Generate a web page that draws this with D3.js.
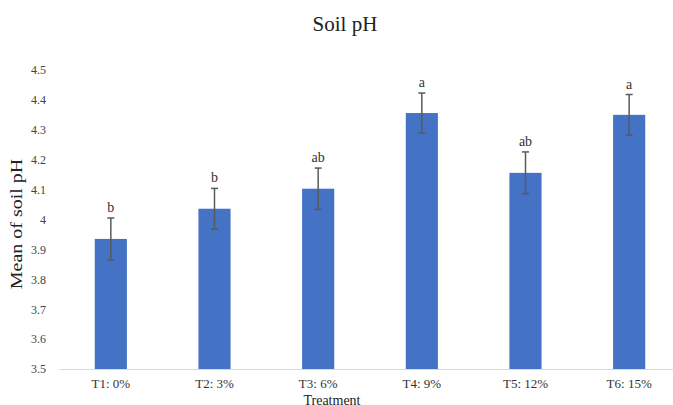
<!DOCTYPE html>
<html>
<head>
<meta charset="utf-8">
<script src="https://cdn.jsdelivr.net/npm/d3@7"></script>
<style>
  body { margin: 0; background: #fff; }
  svg { display: block; font-family: "Liberation Serif", "Times New Roman", serif; }
</style>
</head>
<body>
<svg id="chart"></svg>
<script>
// chart values
const treatments = ['T1: 0%', 'T2: 3%', 'T3: 6%', 'T4: 9%', 'T5: 12%', 'T6: 15%'];
const means = [3.935, 4.036, 4.103, 4.356, 4.156, 4.350];
const errors = [0.07, 0.068, 0.069, 0.067, 0.07, 0.068];
const groups = ['b', 'b', 'ab', 'a', 'ab', 'a'];
const yTicks = [3.5, 3.6, 3.7, 3.8, 3.9, 4, 4.1, 4.2, 4.3, 4.4, 4.5];

const data = treatments.map((t, i) => ({ t, mean: means[i], err: errors[i], grp: groups[i] }));

const W = 673, H = 405;
const margin = { top: 70, right: -8, bottom: 36, left: 59 };
const width = W - margin.left - margin.right;
const height = H - margin.top - margin.bottom;

const svg = d3.select('#chart').attr('width', W).attr('height', H);
const g = svg.append('g').attr('transform', `translate(${margin.left},${margin.top})`);

const x = d3.scaleBand().domain(treatments).range([0, width]).paddingInner(0.69).paddingOuter(0.345);
const y = d3.scaleLinear().domain([3.5, 4.5]).range([height, 0]);

// title
svg.append('text')
  .attr('x', 345).attr('y', 31)
  .attr('text-anchor', 'middle')
  .style('font-size', '21px')
  .attr('fill', '#222')
  .text('Soil pH');

// y axis labels (no line)
const yAxis = g.append('g')
  .call(d3.axisLeft(y).tickValues(yTicks).tickSize(0).tickPadding(13).tickFormat(d3.format('')));
yAxis.select('.domain').remove();
yAxis.selectAll('text').style('font-size', '12px').attr('fill', '#444').style('font-family', 'Liberation Serif, serif');

// y title
svg.append('text')
  .attr('transform', 'translate(22,224) rotate(-90) scale(1,0.8)')
  .attr('text-anchor', 'middle')
  .style('font-size', '20px')
  .attr('fill', '#222')
  .text('Mean of soil pH');

// bars
g.selectAll('rect.bar')
  .data(data)
  .enter()
  .append('rect')
  .attr('class', 'bar')
  .attr('x', d => x(d.t))
  .attr('y', d => y(d.mean))
  .attr('width', x.bandwidth())
  .attr('height', d => height - y(d.mean))
  .attr('fill', '#4472C4');

// x baseline
const xAxis = g.append('g')
  .attr('transform', `translate(0,${height})`)
  .call(d3.axisBottom(x).tickSize(0).tickPadding(10));
xAxis.select('.domain').attr('stroke', '#d9d9d9').attr('stroke-width', 1);
xAxis.selectAll('text').style('font-size', '13px').attr('fill', '#333').style('font-family', 'Liberation Serif, serif');

// error bars
const eb = g.append('g').attr('stroke', '#5a5a5a').attr('stroke-width', 1.5);
data.forEach(d => {
  const cx = x(d.t) + x.bandwidth() / 2;
  eb.append('line').attr('x1', cx).attr('x2', cx).attr('y1', y(d.mean + d.err)).attr('y2', y(d.mean - d.err));
  eb.append('line').attr('x1', cx - 3.5).attr('x2', cx + 3.5).attr('y1', y(d.mean + d.err)).attr('y2', y(d.mean + d.err));
  eb.append('line').attr('x1', cx - 3.5).attr('x2', cx + 3.5).attr('y1', y(d.mean - d.err)).attr('y2', y(d.mean - d.err));
});

// significance letters
g.selectAll('text.grp')
  .data(data)
  .enter()
  .append('text')
  .attr('class', 'grp')
  .attr('x', d => x(d.t) + x.bandwidth() / 2)
  .attr('y', d => y(d.mean + d.err) - 6)
  .attr('text-anchor', 'middle')
  .style('font-size', '14px')
  .attr('fill', '#333')
  .text(d => d.grp);

// x title
svg.append('text')
  .attr('x', 332).attr('y', 405)
  .attr('text-anchor', 'middle')
  .style('font-size', '14px')
  .attr('fill', '#222')
  .text('Treatment');
</script>
</body>
</html>
